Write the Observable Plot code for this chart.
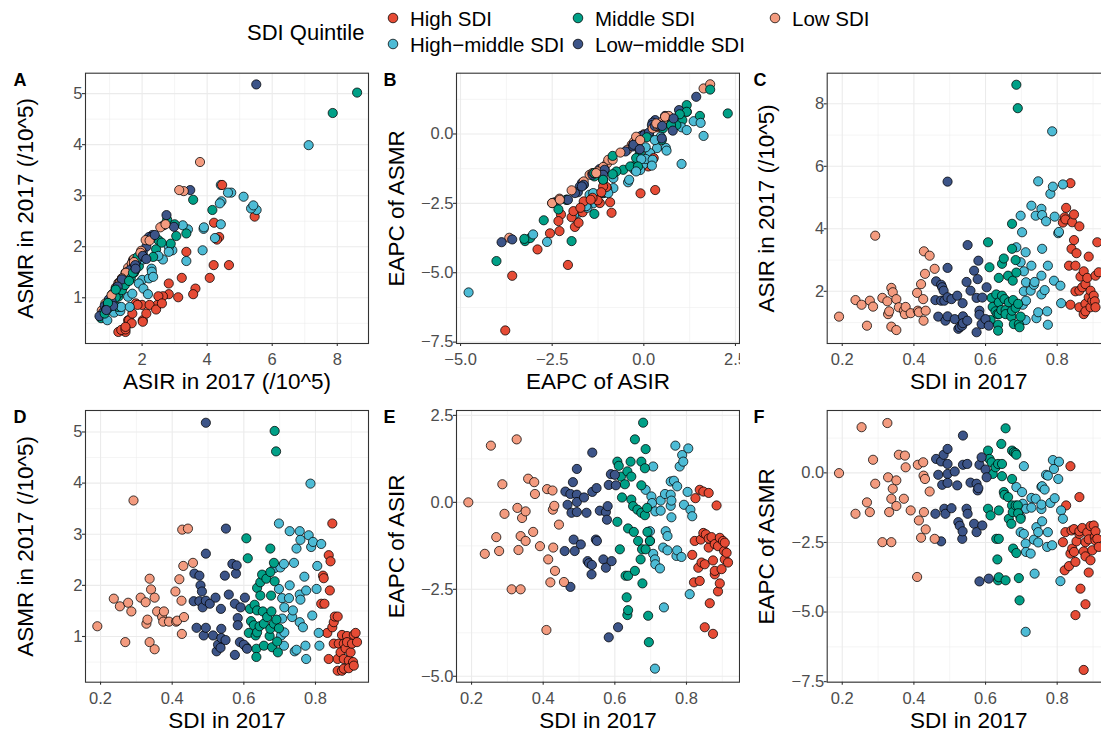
<!DOCTYPE html>
<html><head><meta charset="utf-8">
<script src="https://cdn.jsdelivr.net/npm/d3@7"></script>
<script src="https://cdn.jsdelivr.net/npm/@observablehq/plot@0.6"></script>
<style>
html,body{margin:0;padding:0;background:#fff;overflow:hidden;width:1101px;height:731px;}
#legend{height:62px;}
.row{display:flex;width:1110px;}
.cell{width:370px;flex:none;overflow:hidden;}
svg{display:block}
</style></head><body>
<div id="legend"></div>
<div class="row" id="row1"></div>
<div class="row" id="row2"></div>
<script>
// ---- categories & colours ----
const categories = ["High SDI", "High−middle SDI", "Middle SDI", "Low−middle SDI", "Low SDI"];
const colors = ["#E64B35", "#4DBBD5", "#00A087", "#3C5488", "#F39B7F"];

// ---- tick labels ----
const ticksRate = [1, 2, 3, 4, 5];
const ticksAsirX = [2, 4, 6, 8];
const ticksEapc = [-7.5, -5, -2.5, 0, 2.5];
const ticksSdi = [0.2, 0.4, 0.6, 0.8];

// ---- data rows: [SDI, ASIR, ASMR, EAPC of ASIR, EAPC of ASMR] ----
const highSDI = [
[0.816,4.20,1.64,-1.51,-2.49],[0.821,4.37,2.19,-2.30,-3.50],[0.823,4.30,2.14,-1.11,-2.13],[0.825,4.67,1.64,0.12,-1.17],
[0.833,2.82,1.07,-1.88,-3.35],[0.837,5.46,2.59,-2.26,-2.90],[0.837,1.57,0.56,0.36,0.24],[0.840,3.36,1.90,-1.07,-2.07],
[0.842,4.21,2.47,-1.73,-2.72],[0.847,4.46,3.21,-0.88,-2.84],[0.847,3.64,1.18,0.31,-2.02],[0.851,2.82,1.28,-1.78,-3.20],
[0.851,2.00,0.86,-3.59,-5.11],[0.854,3.22,1.39,-0.92,-2.46],[0.862,4.08,1.39,-1.30,-2.19],[0.862,2.02,0.56,0.27,-0.87],
[0.862,1.49,0.33,-1.04,-2.10],[0.865,2.47,0.86,-2.90,-4.16],[0.870,2.13,0.69,-1.00,-1.98],[0.874,2.64,1.03,-1.67,-2.82],
[0.874,1.27,0.33,-3.78,-7.08],[0.879,1.60,0.56,-2.07,-4.72],[0.879,1.36,0.37,-1.97,-3.00],[0.879,2.23,0.86,-1.20,-2.49],
[0.884,2.43,0.77,-0.09,-2.14],[0.888,3.11,1.01,-1.26,-2.39],[0.888,1.81,0.89,-2.56,-3.58],[0.893,2.02,0.53,-2.33,-3.14],
[0.893,1.49,0.38,-1.02,-1.91],[0.898,1.70,0.69,-1.92,-2.78],[0.902,1.86,0.86,-1.11,-1.89],[0.905,1.68,0.50,-1.40,-2.30],
[0.907,2.50,1.03,-1.16,-2.10],[0.907,1.49,0.43,-1.64,-2.43],[0.912,3.57,1.07,-1.45,-2.37],[0.916,2.61,0.89,-1.73,-2.66]
];
const highMiddleSDI = [
[0.686,3.41,2.34,0.36,-0.51],[0.698,4.42,3.21,-0.83,-1.59],[0.698,2.93,1.93,-1.11,-2.13],[0.702,3.89,2.35,0.17,-0.69],
[0.704,1.57,1.02,-0.02,-1.11],[0.707,2.64,1.75,-1.48,-2.19],[0.707,2.00,1.35,1.03,0.24],[0.712,3.25,2.42,-1.64,-2.54],
[0.712,1.08,0.82,-4.78,-5.71],[0.713,2.29,1.57,-1.78,-2.84],[0.713,1.70,1.08,-0.26,-1.29],[0.726,2.02,1.75,-1.90,-2.90],
[0.728,4.74,3.06,0.05,-0.90],[0.728,2.82,2.00,-0.24,-1.25],[0.735,2.21,1.38,-1.30,-2.40],[0.737,2.30,1.51,-3.02,-3.62],
[0.740,4.42,2.44,0.24,-0.93],[0.742,1.14,0.71,-0.83,-1.95],[0.747,5.52,2.72,-1.38,-2.50],[0.747,1.33,0.74,-0.97,-2.13],
[0.756,4.64,3.06,-0.10,-1.30],[0.756,2.50,1.82,0.60,-0.50],[0.756,1.90,1.28,0.22,-1.14],[0.758,4.44,2.89,0.05,-0.48],
[0.758,3.36,1.72,-0.43,-1.74],[0.765,2.04,1.18,0.62,-0.60],[0.769,4.24,2.17,1.63,-0.07],[0.772,1.36,0.82,-1.54,-2.66],
[0.774,2.82,1.90,0.46,-0.10],[0.774,0.93,0.56,-1.38,-2.13],[0.781,5.12,2.98,1.03,-1.08],[0.786,7.12,3.99,-1.57,-2.60],
[0.788,5.35,2.75,1.36,0.46],[0.791,2.34,1.41,1.17,0.14],[0.793,4.39,2.85,-0.07,-0.91],[0.803,3.86,1.93,0.30,-0.22],
[0.805,3.90,2.38,1.55,0.40],[0.809,2.18,1.07,-2.64,-3.89],[0.811,1.62,0.82,-0.21,-1.35],[0.816,5.42,2.81,-0.40,-1.65]
];
const middleSDI = [
[0.607,3.57,2.92,1.17,0.80],[0.607,1.00,0.79,-0.56,-1.29],[0.611,2.77,2.53,1.05,0.50],[0.614,1.08,1.07,-1.35,-1.53],
[0.617,1.79,1.54,0.74,0.38],[0.620,1.50,1.30,0.14,-0.04],[0.628,1.36,1.22,0.52,0.20],[0.630,1.90,1.62,-2.11,-2.37],
[0.633,1.27,1.02,-2.73,-3.11],[0.635,0.93,0.76,0.89,0.32],[0.635,0.74,0.60,-3.24,-3.86],[0.637,2.43,1.95,-0.75,-1.35],
[0.637,1.65,1.51,-3.10,-3.75],[0.637,1.27,1.08,-2.11,-2.37],[0.644,1.40,1.20,1.17,1.04],[0.646,2.88,2.06,0.74,0.32],
[0.646,1.86,1.80,0.08,-0.12],[0.651,3.05,2.21,-0.11,-0.69],[0.653,1.75,1.49,-0.85,-0.79],[0.656,1.40,1.25,-1.97,-3.86],
[0.656,1.27,0.82,1.81,1.60],[0.663,2.50,2.13,-0.21,-0.87],[0.665,1.65,1.38,-1.11,-1.65],[0.672,1.19,1.01,-1.64,-1.83],
[0.674,4.16,2.72,-0.30,-1.17],[0.674,3.36,2.26,1.17,0.80],[0.674,1.38,1.15,0.49,-0.22],[0.676,2.34,1.80,-1.35,-1.41],
[0.677,1.72,1.49,-2.33,-2.72],[0.679,0.95,0.79,2.29,0.74],[0.684,3.00,2.44,0.98,0.71],[0.684,1.47,1.25,-0.37,-1.17],
[0.686,8.61,5.02,1.53,0.65],[0.686,2.60,2.08,-1.35,-2.88],[0.690,7.86,4.62,-0.16,-1.17],[0.691,1.60,1.33,-0.85,-1.45],
[0.693,0.95,0.90,-3.26,-3.78],[0.695,0.85,0.69,-4.02,-4.58],[0.698,1.19,1.16,-1.11,-1.65]
];
const lowMiddleSDI = [
[0.460,1.72,1.69,-1.40,-1.47],[0.462,2.32,2.23,0.31,0.50],[0.468,1.19,1.17,-0.07,-0.07],[0.476,2.21,2.19,-2.43,-2.46],
[0.476,1.70,1.69,0.24,0.41],[0.479,2.13,2.00,-0.30,-0.43],[0.483,2.02,1.88,0.58,0.65],[0.485,1.70,1.57,-1.07,-1.29],
[0.488,1.06,1.02,-1.40,-1.47],[0.494,5.51,5.18,0.22,0.32],[0.494,2.75,2.62,0.01,-0.04],[0.494,1.81,1.70,0.96,0.86],
[0.494,1.20,1.17,-0.28,-0.36],[0.505,1.75,1.64,-1.21,-1.27],[0.514,1.11,1.02,0.14,0.05],[0.521,1.86,1.76,-0.30,-0.45],
[0.524,0.80,0.71,-1.69,-1.77],[0.528,0.85,0.84,-1.75,-1.90],[0.535,0.90,0.78,-2.07,-2.37],[0.536,1.62,1.54,-1.80,-2.10],
[0.537,1.20,1.15,1.43,1.34],[0.537,0.98,0.97,0.30,0.29],[0.547,2.30,2.19,-1.07,-1.29],[0.549,1.06,0.93,0.41,0.32],
[0.550,3.48,3.11,-1.11,-1.47],[0.558,2.02,1.82,-0.24,-0.35],[0.568,2.66,2.42,-1.64,-1.83],[0.575,1.79,1.64,-1.88,-2.13],
[0.575,0.69,0.64,-0.28,-0.39],[0.578,2.39,2.23,-0.50,-0.63],[0.580,2.98,2.39,-0.11,-0.55],[0.583,1.38,1.36,0.50,0.29],
[0.583,1.25,1.22,-3.88,-3.90],[0.589,0.95,0.89,0.81,0.56],[0.591,1.80,1.57,-1.69,-1.89],[0.600,1.11,0.84,0.79,0.12],
[0.603,2.13,1.76,0.49,-0.16],[0.609,0.90,0.76,-3.59,-3.80]
];
const lowSDI = [
[0.191,1.19,1.20,0.00,-0.01],[0.237,1.72,1.74,-1.48,-1.47],[0.254,1.57,1.59,1.63,1.64],[0.269,0.90,0.89,-1.00,-1.06],
[0.277,1.70,1.66,-1.40,-1.41],[0.286,1.51,1.49,0.52,0.47],[0.292,3.78,3.66,-0.33,-0.39],[0.312,1.79,1.76,-2.50,-2.49],
[0.326,1.68,1.67,1.81,1.79],[0.328,1.27,1.25,-0.16,-0.16],[0.331,1.36,1.33,-1.37,-1.41],[0.337,2.11,2.13,-0.97,-0.93],
[0.337,0.87,0.89,-2.50,-2.49],[0.341,1.97,1.92,-0.45,-0.57],[0.351,1.75,1.76,-0.26,-0.27],[0.351,0.76,0.75,-1.11,-1.19],
[0.358,1.49,1.49,0.68,0.65],[0.372,1.38,1.38,-0.85,-0.93],[0.375,1.27,1.29,0.58,0.62],[0.377,1.50,1.49,0.24,0.20],
[0.391,1.30,1.29,-1.26,-1.35],[0.409,1.95,1.88,-3.67,-3.74],[0.411,1.38,1.29,0.38,0.29],[0.414,1.33,1.31,-1.64,-1.71],
[0.420,2.23,2.12,-2.30,-2.33],[0.426,1.75,1.70,0.34,0.38],[0.427,1.06,1.05,-0.21,-0.10],[0.428,3.28,3.09,-1.30,-1.41],
[0.431,2.56,2.38,-0.10,-0.22],[0.433,1.38,1.38,-1.97,-2.03],[0.444,3.14,3.11,-0.64,-0.67],[0.458,2.72,2.44,-2.29,-2.37]
];

// ---- build one table (interleaved draw order) ----
const groupRows = [highSDI, highMiddleSDI, middleSDI, lowMiddleSDI, lowSDI];
const rows = [];
const maxLen = d3.max(groupRows, g => g.length);
for (let i = 0; i < maxLen; i++) {
  groupRows.forEach((g, gi) => {
    if (i < g.length) {
      const [sdi, asir, asmr, eIr, eMr] = g[i];
      rows.push({group: categories[gi], sdi, asir, asmr, eIr, eMr});
    }
  });
}

// ---- legend ----
(function legend() {
  const svg = d3.select("#legend").append("svg").attr("width", 1101).attr("height", 62)
    .style("font-family", "'Liberation Sans', Arial, sans-serif");
  svg.append("text").attr("x", 247).attr("y", 32).attr("dominant-baseline", "central")
    .attr("font-size", 22).attr("fill", "black").text("SDI Quintile");
  const colX = [393, 578, 775], rowY = [18, 44];
  categories.forEach((c, k) => {
    const cx = colX[Math.floor(k / 2)], cy = rowY[k % 2];
    svg.append("circle").attr("cx", cx).attr("cy", cy).attr("r", 4.8)
      .attr("fill", colors[k]).attr("stroke", "black").attr("stroke-width", 0.75);
    svg.append("text").attr("x", cx + 17).attr("y", cy).attr("dominant-baseline", "central")
      .attr("font-size", 20.5).attr("fill", "black").text(c);
  });
})();

// ---- panels ----
const fmtInt = d => String(d);
const fmt1 = d => d3.format(".1f")(d).replace("-", "−");
const minorOf = (t, dom) => {
  const step = t[1] - t[0], out = [];
  for (let v = t[0] - step / 2; v <= t[t.length - 1] + step / 2 + 1e-9; v += step) if (v >= dom[0] && v <= dom[1]) out.push(+v.toFixed(4));
  return out;
};

const panels = [
  {row: 1, label: "A", x: "asir", y: "asmr", xd: [0.26, 8.96], yd: [0.104, 5.40], xt: ticksAsirX, yt: ticksRate, xf: fmtInt, yf: fmtInt, xl: "ASIR in 2017 (/10^5)", yl: "ASMR in 2017 (/10^5)"},
  {row: 1, label: "B", x: "eIr", y: "eMr", xd: [-5.11, 2.61], yd: [-7.55, 2.19], xt: ticksEapc, yt: ticksEapc, xf: fmt1, yf: fmt1, xl: "EAPC of ASIR", yl: "EAPC of ASMR"},
  {row: 1, label: "C", x: "sdi", y: "asir", xd: [0.158, 0.948], yd: [0.33, 8.98], xt: ticksSdi, yt: ticksAsirX, xf: fmt1, yf: fmtInt, xl: "SDI in 2017", yl: "ASIR in 2017 (/10^5)"},
  {row: 2, label: "D", x: "sdi", y: "asmr", xd: [0.158, 0.948], yd: [0.106, 5.42], xt: ticksSdi, yt: ticksRate, xf: fmt1, yf: fmtInt, xl: "SDI in 2017", yl: "ASMR in 2017 (/10^5)"},
  {row: 2, label: "E", x: "sdi", y: "eIr", xd: [0.158, 0.948], yd: [-5.17, 2.64], xt: ticksSdi, yt: ticksEapc, xf: fmt1, yf: fmt1, xl: "SDI in 2017", yl: "EAPC of ASIR"},
  {row: 2, label: "F", x: "sdi", y: "eMr", xd: [0.158, 0.948], yd: [-7.52, 2.24], xt: ticksSdi, yt: ticksEapc, xf: fmt1, yf: fmt1, xl: "SDI in 2017", yl: "EAPC of ASMR"}
];

const colML = [85, 86, 86.7];
const FONT = "'Liberation Sans', Arial, Helvetica, sans-serif";

panels.forEach((p, i) => {
  const col = i % 3;
  const ml = colML[col];
  const mr = 370 - ml - 283;
  const height = p.row === 1 ? 333 : 342;
  const mt = p.row === 1 ? 10.7 : 15;
  const mb = p.row === 1 ? 52 : 55.3;
  const inX = v => v >= p.xd[0] && v <= p.xd[1];
  const inY = v => v >= p.yd[0] && v <= p.yd[1];
  const xt = p.xt.filter(inX), yt = p.yt.filter(inY);
  const xm = minorOf(p.xt, p.xd), ym = minorOf(p.yt, p.yd);
  const fig = Plot.plot({
    width: 370, height,
    marginLeft: ml, marginRight: mr, marginTop: mt, marginBottom: mb,
    style: {fontFamily: FONT, fontSize: "16px", background: "white", color: "black"},
    x: {domain: p.xd, label: null},
    y: {domain: p.yd, label: null},
    color: {domain: categories, range: colors},
    marks: [
      Plot.gridX(xm, {stroke: "#EBEBEB", strokeOpacity: 1, strokeWidth: 0.55}),
      Plot.gridY(ym, {stroke: "#EBEBEB", strokeOpacity: 1, strokeWidth: 0.55}),
      Plot.gridX(xt, {stroke: "#EBEBEB", strokeOpacity: 1, strokeWidth: 1.1}),
      Plot.gridY(yt, {stroke: "#EBEBEB", strokeOpacity: 1, strokeWidth: 1.1}),
      Plot.dot(rows, {x: p.x, y: p.y, fill: "group", stroke: "black", strokeWidth: 0.75, r: 4.6}),
      Plot.frame({stroke: "#333333", strokeWidth: 1.1}),
      Plot.axisX(xt, {tickSize: 3, tickFormat: () => "", stroke: "#333333", strokeWidth: 1.1, label: null}),
      Plot.axisY(yt, {tickSize: 3, tickFormat: () => "", stroke: "#333333", strokeWidth: 1.1, label: null}),
      Plot.axisX(xt, {tickSize: 0, tickPadding: 10, tickFormat: p.xf, fill: "#4D4D4D", fontSize: 16.5, label: null}),
      Plot.axisY(yt, {tickSize: 0, tickPadding: 3, tickFormat: p.yf, fill: "#4D4D4D", fontSize: 16.5, label: null}),
      Plot.text([p.xl], {text: d => d, frameAnchor: "bottom", dy: 38.5, textAnchor: "middle", lineAnchor: "middle", fontSize: 22.5, fill: "black"}),
      Plot.text([p.yl], {text: d => d, frameAnchor: "left", dx: -60, rotate: -90, textAnchor: "middle", lineAnchor: "middle", fontSize: 22.5, fill: "black"}),
      Plot.text([p.label], {text: d => d, frameAnchor: "top-left", dx: -(ml - 13), dy: 7, textAnchor: "start", lineAnchor: "middle", fontSize: 18, fontWeight: "bold", fill: "black"})
    ]
  });
  const cell = document.createElement("div");
  cell.className = "cell";
  cell.appendChild(fig);
  document.getElementById("row" + p.row).appendChild(cell);
});
</script>
</body></html>
